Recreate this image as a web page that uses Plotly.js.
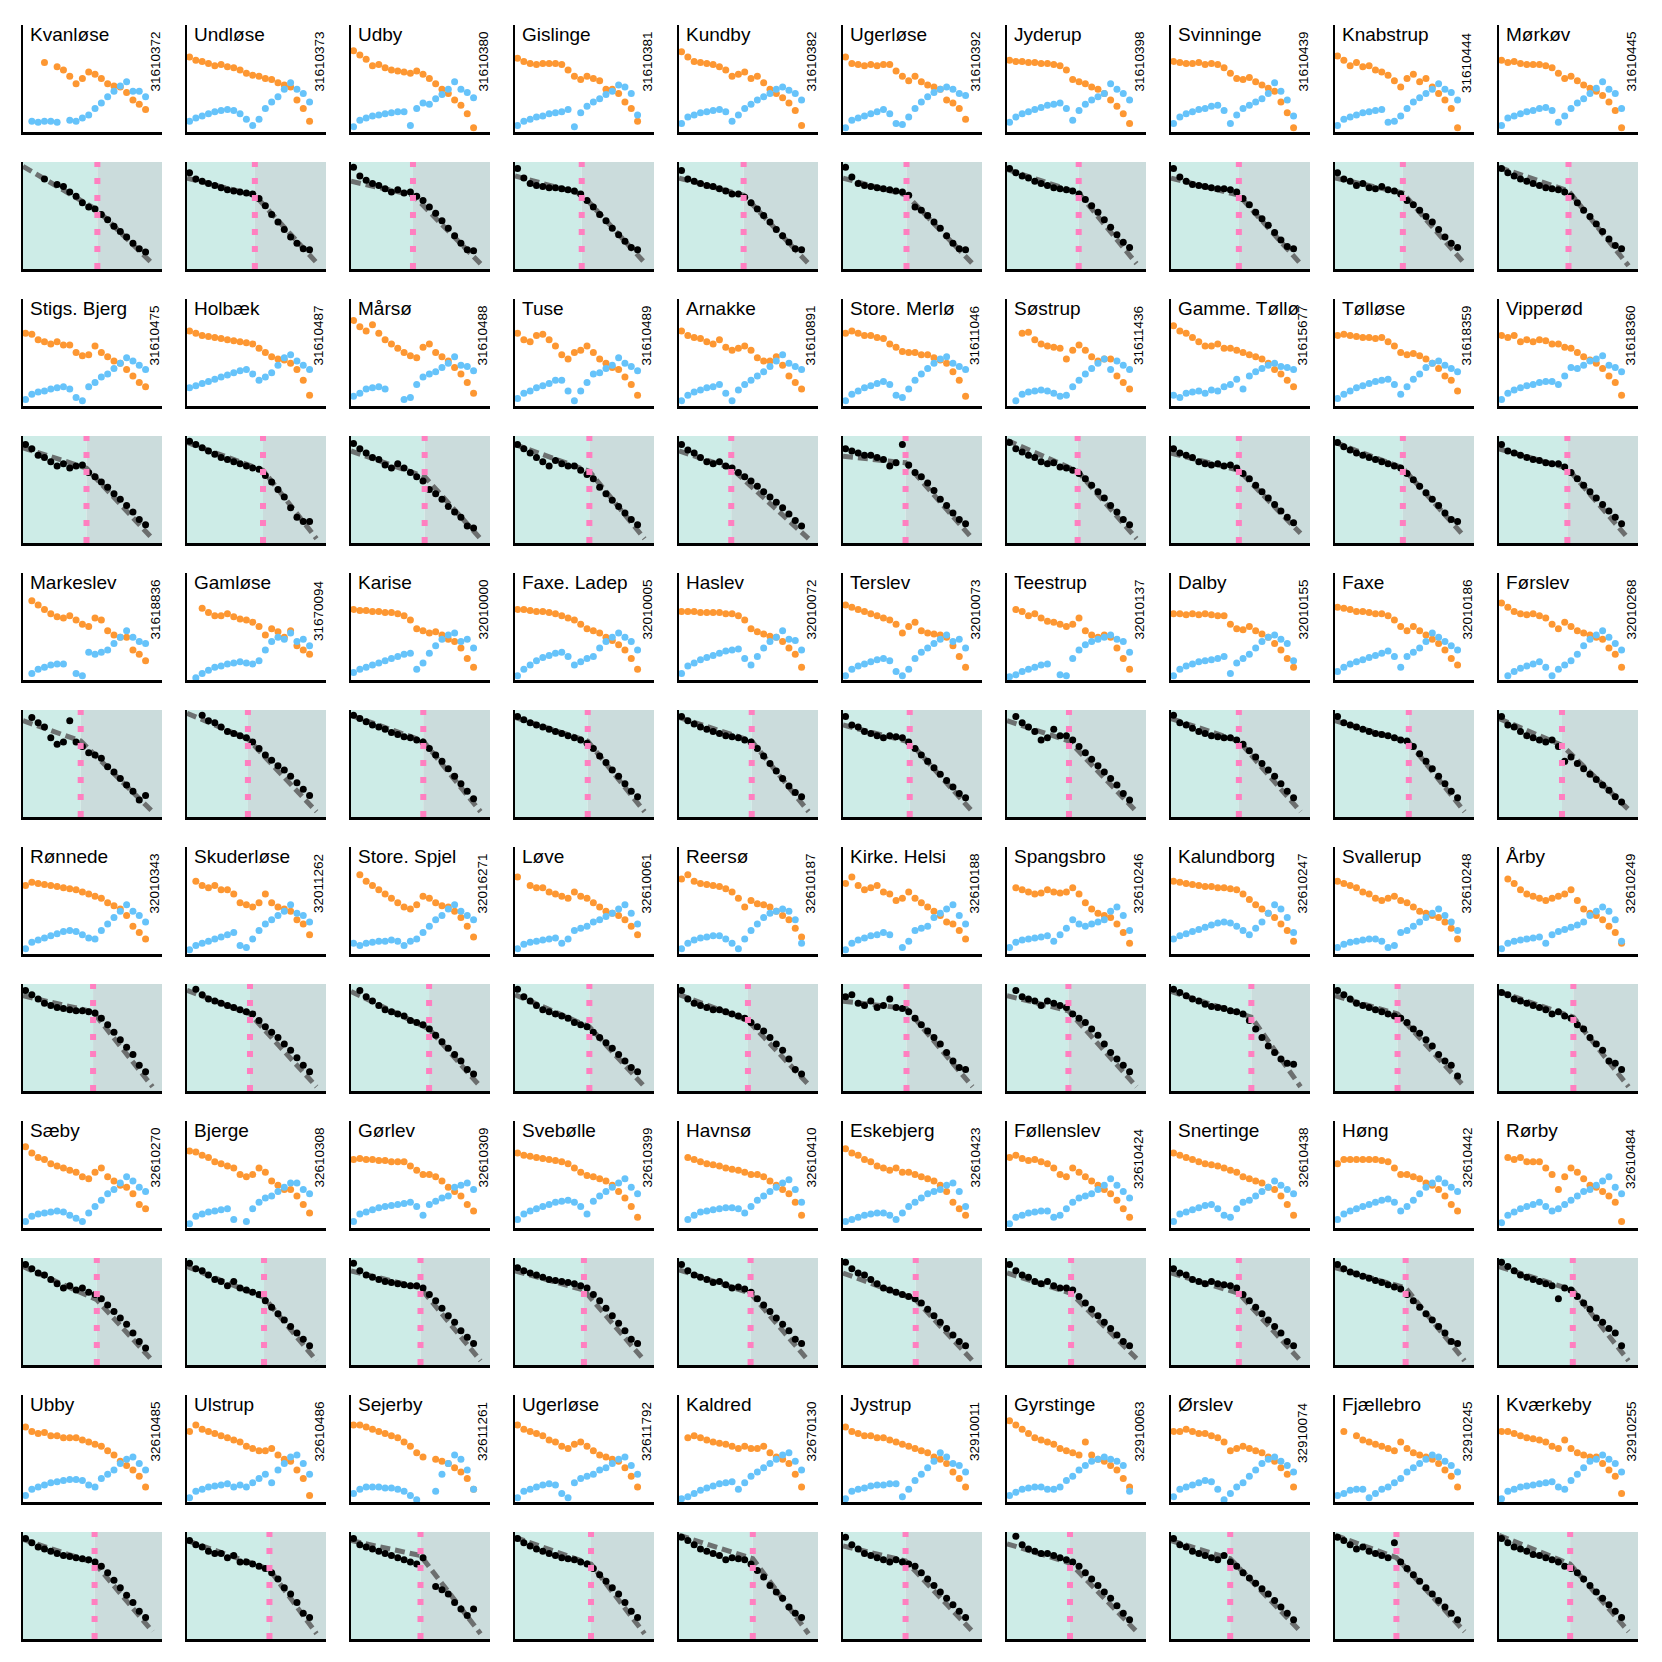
<!DOCTYPE html>
<html>
<head>
<meta charset="utf-8">
<script src="https://cdn.plot.ly/plotly-3.0.1.min.js"></script>
<style>
  html, body { margin: 0; padding: 0; background: #fff; }
  #chart { width: 1662px; height: 1662px; }
</style>
</head>
<body>
<div id="chart"></div>
<script>
// Station panels: top = two level series, bottom = ratio series with a broken-line fit.

const siteNames = [
  'Kvanløse', 'Undløse', 'Udby', 'Gislinge', 'Kundby', 'Ugerløse', 'Jyderup', 'Svinninge', 'Knabstrup', 'Mørkøv',
  'Stigs. Bjerg', 'Holbæk', 'Mårsø', 'Tuse', 'Arnakke', 'Store. Merlø', 'Søstrup', 'Gamme. Tøllø', 'Tølløse', 'Vipperød',
  'Markeslev', 'Gamløse', 'Karise', 'Faxe. Ladep', 'Haslev', 'Terslev', 'Teestrup', 'Dalby', 'Faxe', 'Førslev',
  'Rønnede', 'Skuderløse', 'Store. Spjel', 'Løve', 'Reersø', 'Kirke. Helsi', 'Spangsbro', 'Kalundborg', 'Svallerup', 'Årby',
  'Sæby', 'Bjerge', 'Gørlev', 'Svebølle', 'Havnsø', 'Eskebjerg', 'Føllenslev', 'Snertinge', 'Høng', 'Rørby',
  'Ubby', 'Ulstrup', 'Sejerby', 'Ugerløse', 'Kaldred', 'Jystrup', 'Gyrstinge', 'Ørslev', 'Fjællebro', 'Kværkeby',
];

const siteIds = [
  '31610372', '31610373', '31610380', '31610381', '31610382', '31610392', '31610398', '31610439', '31610444', '31610445',
  '31610475', '31610487', '31610488', '31610489', '31610891', '31611046', '31611436', '31615677', '31618359', '31618360',
  '31618836', '31670094', '32010000', '32010005', '32010072', '32010073', '32010137', '32010155', '32010186', '32010268',
  '32010343', '32011262', '32016271', '32610061', '32610187', '32610188', '32610246', '32610247', '32610248', '32610249',
  '32610270', '32610308', '32610309', '32610399', '32610410', '32610423', '32610424', '32610438', '32610442', '32610484',
  '32610485', '32610486', '32611261', '32611792', '32670130', '32910011', '32910063', '32910074', '32910245', '32910255',
];

// sample times shared by every series
const sampleTimes = [1, 2, 3, 4, 5, 6, 7, 8, 9, 10, 11, 12, 13, 14, 15, 16, 17, 18, 19, 20];

const orangeSeries = [
  [null,null,null,65,null,61,58,52,45,50,56,54,50,45,43,42,37,30,26,21],
  [70,67,66,64,62,63,61,60,58,55,53,52,50,49,46,44,42,30,22,10],
  [76,72,68,62,63,60,58,57,56,55,57,54,50,45,40,36,30,25,17,4],
  [69,66,64,63,64,64,64,63,58,52,49,52,50,48,40,40,36,28,22,10],
  [75,70,66,65,64,63,61,58,52,54,56,50,52,46,40,36,32,27,20,6],
  [70,64,63,62,63,62,63,63,57,52,48,52,47,44,42,40,30,27,22,12],
  [67,66,66,65,65,64,64,63,62,58,49,47,45,42,40,36,30,24,17,8],
  [66,65,64,64,65,63,64,63,60,55,50,49,51,47,44,41,38,28,18,4],
  [71,67,62,65,61,62,58,56,53,48,42,50,54,47,50,42,36,30,22,4],
  [67,65,66,64,63,63,63,62,60,55,50,52,48,44,41,38,34,28,20,4],
  [68,67,62,60,58,60,57,57,50,47,48,56,50,46,42,40,34,28,22,18],
  [70,68,66,65,64,63,62,61,60,59,58,54,50,46,44,43,40,34,24,10],
  [80,74,70,76,68,62,58,54,50,47,45,55,58,50,46,42,36,30,22,12],
  [68,62,60,66,67,62,56,48,44,50,52,56,50,44,40,36,34,27,20,10],
  [70,66,64,63,60,58,62,55,52,54,56,52,45,42,42,46,38,28,22,16],
  [68,70,68,66,66,64,63,58,55,51,50,50,48,48,45,43,40,32,24,9],
  [null,null,68,69,62,58,56,55,54,44,52,57,52,46,42,44,44,28,22,16],
  [75,70,68,64,60,56,56,58,54,54,52,50,48,46,44,40,34,30,24,18],
  [66,67,66,65,64,64,63,64,60,56,50,48,49,47,44,40,35,28,24,14],
  [66,64,66,60,62,60,62,61,58,58,55,54,50,46,43,40,35,28,22,10],
  [null,74,70,66,62,59,58,60,56,52,50,58,56,46,42,40,40,28,24,18],
  [null,null,67,63,60,60,62,59,57,56,54,50,42,48,45,40,46,32,28,24],
  [66,65,65,64,64,63,63,62,60,56,48,46,44,45,42,38,36,30,20,12],
  [66,66,65,64,64,63,62,60,58,56,52,48,46,44,40,37,33,28,20,10],
  [64,64,64,63,63,63,63,62,62,60,56,48,45,43,41,40,36,30,24,12],
  [70,68,66,64,62,60,58,56,52,44,50,54,46,44,43,42,40,32,22,12],
  [null,66,64,60,62,58,55,54,52,50,52,58,46,42,40,42,40,30,20,10],
  [62,62,61,62,61,62,61,60,60,52,48,47,50,46,43,40,34,28,20,12],
  [68,67,66,64,64,63,62,62,60,56,50,46,50,46,42,38,34,28,20,14],
  [72,68,64,62,61,62,60,58,52,48,54,50,46,44,42,40,38,30,24,12],
  [64,67,66,65,64,63,62,61,60,58,56,54,52,48,45,42,36,26,20,14],
  [null,68,64,62,64,60,60,56,48,46,44,48,56,48,44,42,40,32,28,18],
  [null,74,68,64,60,56,52,48,44,42,46,54,52,48,45,44,40,34,26,16],
  [72,null,64,62,62,58,56,54,52,58,54,52,48,44,40,38,36,32,26,18],
  [70,74,68,66,65,64,63,61,58,52,44,50,47,46,44,40,36,32,24,16],
  [66,72,64,60,62,64,58,56,50,52,58,52,48,44,40,36,30,28,22,14],
  [null,62,60,58,56,57,60,58,57,58,62,56,48,42,38,36,34,28,20,10],
  [68,67,66,65,64,63,63,62,62,61,60,56,51,46,42,38,34,28,22,12],
  [68,66,64,62,58,56,52,50,52,54,50,48,44,40,38,36,34,30,24,14],
  [null,70,66,60,56,54,52,50,52,54,56,60,50,42,38,36,32,26,20,10],
  [76,70,66,64,60,58,56,54,52,48,46,52,56,48,44,40,38,32,22,18],
  [72,71,68,66,62,60,58,56,50,48,50,56,52,44,40,36,36,30,22,14],
  [64,65,64,64,63,63,62,62,62,58,54,50,50,48,44,38,34,30,22,16],
  [70,68,67,66,65,64,63,62,60,56,52,49,48,46,44,40,34,28,20,10],
  [null,66,64,62,60,59,58,56,55,54,52,50,50,48,44,40,36,32,24,12],
  [74,70,68,64,62,58,56,54,56,52,52,50,48,46,44,40,34,24,18,12],
  [66,68,65,63,64,62,60,56,50,48,56,52,48,44,40,36,32,26,18,10],
  [70,68,66,64,62,60,59,58,56,54,52,48,46,44,42,38,36,30,22,12],
  [60,64,64,64,64,64,64,63,62,56,50,50,48,46,42,40,36,30,22,16],
  [null,66,64,66,62,62,62,56,50,36,48,56,52,46,40,38,34,30,24,6],
  [70,66,64,65,62,62,60,60,60,58,56,54,52,48,44,38,34,30,24,14],
  [66,72,68,66,64,62,60,58,56,52,50,48,48,50,44,40,38,30,22,6],
  [72,72,70,68,66,64,62,60,56,52,46,42,null,40,38,36,32,28,22,12],
  [72,68,66,64,62,58,56,52,50,54,56,52,48,44,42,40,38,32,24,14],
  [null,60,62,60,58,56,55,54,52,50,52,50,50,52,46,42,40,36,26,14],
  [70,66,64,62,62,60,60,58,56,54,52,50,48,46,42,40,36,28,22,14],
  [76,72,68,64,60,58,56,54,50,48,46,44,56,44,40,38,34,30,22,14],
  [66,66,68,66,64,64,62,60,56,48,50,52,50,48,46,42,38,32,26,14],
  [null,66,null,62,58,56,54,52,50,48,56,50,46,44,42,40,36,30,24,14],
  [66,66,64,62,60,59,58,56,52,50,58,50,46,44,42,42,36,30,24,8],
];

const blueSeries = [
  [null,10,9,10,10,9,null,11,10,13,16,22,27,33,38,43,47,38,38,33],
  [10,13,15,17,19,20,21,20,17,12,6,12,22,28,33,40,46,40,36,28],
  [5,11,13,15,16,17,18,19,19,6,22,27,26,31,35,40,47,40,37,32],
  [6,10,12,14,15,17,18,19,21,5,18,24,28,31,35,38,44,42,36,16],
  [8,14,16,18,19,20,21,19,10,16,22,26,30,33,36,40,42,39,36,30],
  [4,11,13,15,17,19,21,17,8,7,14,22,28,33,37,40,42,40,36,34],
  [9,14,17,19,21,23,25,26,27,22,11,20,26,30,33,36,45,40,36,30],
  [8,14,17,19,21,22,24,25,20,8,16,22,25,28,31,36,46,38,30,15],
  [6,12,14,16,18,19,20,21,9,10,15,22,28,32,36,40,45,40,37,30],
  [6,13,15,17,19,20,22,23,20,9,15,22,27,31,36,41,47,40,36,22],
  [6,11,13,14,16,17,18,16,8,5,18,22,27,30,35,40,45,42,38,34],
  [17,19,21,23,25,27,29,31,33,34,30,24,27,31,38,45,48,42,38,34],
  [9,12,16,17,18,16,null,null,6,8,20,27,30,32,36,40,46,38,37,33],
  [7,12,14,17,19,21,24,24,14,5,14,22,30,31,35,38,45,40,37,33],
  [5,10,13,15,17,18,20,12,5,15,20,24,28,32,37,42,48,40,37,34],
  [5,11,14,17,19,21,23,20,10,8,16,24,30,35,40,44,46,40,37,34],
  [null,5,11,13,14,15,14,12,9,10,18,24,30,35,40,44,34,42,38,34],
  [10,8,12,13,14,12,15,14,18,20,25,16,28,32,35,38,40,37,36,34],
  [7,11,14,17,19,21,23,24,25,20,11,18,25,30,36,40,42,38,35,32],
  [6,12,15,17,19,20,22,23,23,20,28,36,35,38,42,44,47,38,36,32],
  [null,6,10,12,14,15,15,null,6,4,26,24,26,28,34,40,46,40,36,34],
  [null,2,6,9,12,13,15,16,17,16,15,18,28,36,40,38,44,36,38,32],
  [7,10,12,14,16,18,20,22,24,25,10,16,25,32,38,42,44,36,38,30],
  [4,10,14,18,21,23,25,26,22,14,17,20,22,30,36,40,44,40,36,28],
  [6,13,16,19,21,23,25,27,28,29,20,14,22,30,36,40,46,38,37,28],
  [4,10,13,15,17,19,20,18,8,4,10,20,26,30,34,38,42,36,38,30],
  [3,5,8,10,12,14,15,null,5,4,20,28,33,36,38,40,42,38,36,26],
  [4,10,13,15,17,18,19,20,22,6,16,20,24,30,36,40,42,38,34,18],
  [8,12,15,17,19,21,23,25,27,22,12,22,26,30,36,44,40,36,32,28],
  [null,4,8,11,13,15,17,12,4,10,14,18,24,32,38,42,46,40,34,28],
  [5,11,13,15,17,19,21,22,21,18,15,14,22,28,34,40,46,40,36,30],
  [4,8,10,12,14,16,18,20,8,6,14,22,28,32,36,40,46,38,36,30],
  [10,8,10,11,12,12,13,12,8,12,14,20,26,32,36,42,46,40,36,32],
  [5,9,11,12,13,14,15,10,14,22,24,26,30,32,35,38,42,46,38,28],
  [5,10,13,15,16,17,17,14,10,5,14,22,28,34,38,40,42,40,32,10],
  [4,10,13,15,17,18,20,18,null,6,12,22,24,26,34,38,42,46,36,28],
  [6,11,13,14,15,16,17,12,18,24,32,28,26,28,30,32,40,44,36,22],
  [14,17,19,21,23,25,27,29,30,29,26,22,18,24,30,38,46,42,34,20],
  [6,9,11,12,13,14,14,12,6,8,20,22,26,30,34,38,42,36,30,22],
  [5,10,12,13,14,15,16,10,18,21,23,25,27,30,36,40,44,40,32,12],
  [6,11,13,14,15,16,15,12,9,6,14,20,26,32,36,42,48,44,38,34],
  [4,11,13,15,16,17,18,8,null,6,18,24,28,30,34,38,42,42,36,32],
  [6,13,15,17,19,20,21,22,23,24,20,12,22,25,28,30,38,40,42,36],
  [8,13,16,18,20,22,24,25,26,24,20,13,25,30,34,38,42,46,38,32],
  [null,8,12,15,16,17,18,19,19,18,14,20,26,30,34,38,42,45,36,24],
  [6,8,10,12,13,14,14,12,8,14,20,24,28,32,34,36,40,42,34,20],
  [4,10,12,14,15,16,16,10,12,18,24,28,30,32,36,40,46,40,34,28],
  [6,13,15,17,19,21,22,18,12,10,18,24,26,30,34,38,44,40,36,32],
  [8,13,16,18,20,22,24,26,27,24,16,20,26,32,38,42,46,42,38,34],
  [5,12,15,18,20,22,24,20,16,18,22,26,30,34,36,40,44,48,38,32],
  [6,12,14,16,18,19,20,21,21,20,16,14,22,26,30,36,40,42,36,30],
  [4,10,12,14,15,16,17,14,16,14,18,22,26,18,30,36,42,44,36,26],
  [8,12,14,14,14,13,13,12,10,6,2,null,null,10,26,36,44,40,30,12],
  [4,10,12,14,16,17,16,8,4,18,22,24,26,30,32,36,40,42,34,26],
  [3,5,8,11,13,15,17,18,19,12,18,24,28,32,36,40,44,46,38,30],
  [3,10,12,13,15,16,16,17,17,5,12,20,26,32,38,46,42,36,34,28],
  [6,9,12,13,14,14,12,12,14,20,24,30,34,38,40,42,40,38,34,10],
  [5,12,14,16,18,20,19,12,2,8,14,18,24,30,36,40,42,38,34,28],
  [6,8,11,12,12,4,8,12,14,18,22,28,32,36,40,44,42,38,34,28],
  [3,10,12,14,15,16,17,18,19,14,12,20,26,32,38,40,44,40,36,28],
];

const blackSeries = [
  [null,null,null,84,null,79,77,72,68,62,58,56,51,46,40,35,30,24,19,16],
  [90,84,82,80,78,76,74,73,72,71,70,66,59,51,44,37,30,24,19,18],
  [95,87,83,80,78,75,72,74,71,72,68,64,58,52,45,38,31,24,18,17],
  [94,85,80,78,77,76,76,75,74,73,70,64,58,51,45,38,32,26,20,18],
  [92,84,82,80,78,77,75,73,70,70,67,62,56,50,44,37,31,25,19,18],
  [95,86,80,78,77,76,75,74,73,72,69,58,55,50,44,38,31,24,19,18],
  [94,90,87,85,82,80,78,76,75,74,73,70,65,59,53,46,39,32,25,20],
  [94,86,82,79,78,77,76,75,75,74,72,66,60,53,47,41,34,27,21,19],
  [90,84,82,78,80,76,75,77,74,73,70,64,60,55,49,44,37,30,24,20],
  [94,90,87,84,82,80,78,76,75,74,72,68,62,55,49,42,35,28,22,19],
  [92,88,82,80,76,72,74,70,72,73,66,62,57,52,46,41,35,29,22,17],
  [95,92,89,86,83,80,78,76,74,72,70,69,63,57,50,43,33,24,20,20],
  [93,88,84,80,78,73,70,74,70,66,62,58,50,46,41,34,29,24,16,14],
  [92,88,84,80,76,72,77,74,72,72,68,64,60,52,46,40,34,28,22,17],
  [92,87,84,80,76,74,76,72,70,66,62,58,53,48,43,38,33,27,21,16],
  [88,86,84,82,82,80,78,72,75,92,73,66,62,56,49,41,35,28,22,18],
  [94,88,85,82,80,76,74,75,71,70,68,65,60,54,48,42,35,29,22,17],
  [88,84,82,80,76,74,73,74,72,73,70,65,60,54,48,42,36,30,24,19],
  [94,90,87,84,82,80,78,76,74,72,70,65,59,53,47,41,35,28,22,20],
  [92,86,84,82,80,78,77,75,74,74,71,66,60,54,48,42,36,30,24,18],
  [null,93,88,84,74,68,70,90,70,66,60,58,55,47,42,36,30,24,16,20],
  [null,null,95,90,88,84,80,78,76,74,70,64,58,53,48,44,38,32,26,20],
  [95,92,89,86,84,82,79,77,75,74,72,70,64,58,52,45,38,31,24,17],
  [94,91,88,86,84,82,80,78,76,74,72,69,64,57,51,44,38,31,24,19],
  [94,90,87,84,82,80,78,76,75,74,72,70,64,57,50,43,36,29,23,19],
  [94,86,84,80,78,76,74,76,75,74,70,64,58,52,46,40,34,28,22,18],
  [null,94,88,84,80,72,74,82,76,76,72,66,60,54,48,42,36,30,22,16],
  [95,88,86,83,80,78,76,75,74,74,72,68,62,56,50,44,38,31,24,18],
  [94,88,86,84,82,80,78,77,76,74,72,71,66,59,52,45,38,31,24,18],
  [94,86,84,80,76,74,72,70,72,66,52,56,50,45,40,35,30,25,19,14],
  [94,90,86,82,80,78,77,76,75,75,74,73,68,62,55,48,41,34,24,18],
  [null,95,90,86,84,82,80,78,76,74,72,66,60,55,50,44,38,31,24,18],
  [null,94,88,84,80,76,74,72,70,66,64,62,58,52,46,40,34,28,20,16],
  [95,88,84,80,76,74,72,70,68,64,62,60,55,50,45,40,34,28,22,18],
  [94,86,82,80,78,76,76,74,72,70,68,64,60,56,50,44,38,30,20,16],
  [88,90,82,80,84,78,80,86,78,77,74,68,62,56,50,44,36,28,22,20],
  [null,94,88,86,84,80,84,82,80,78,72,68,64,58,52,44,36,30,24,18],
  [95,92,89,86,84,81,79,78,77,75,74,72,66,58,50,42,36,30,26,25],
  [94,90,86,82,80,78,76,74,72,70,68,64,58,54,48,42,34,28,24,14],
  [92,90,86,84,82,80,78,76,72,74,70,68,62,58,50,44,38,28,26,20],
  [94,90,86,84,80,76,72,74,70,72,68,66,62,56,50,44,38,30,22,16],
  [95,90,88,84,80,78,74,78,72,70,68,66,60,54,48,42,36,30,24,18],
  [95,88,84,82,80,78,77,76,75,74,74,72,66,60,53,46,40,32,26,20],
  [91,88,86,84,82,80,79,78,77,76,74,72,66,60,53,46,39,32,24,20],
  [94,88,84,82,80,77,78,75,72,73,71,68,62,56,50,44,38,32,24,20],
  [96,90,86,84,80,76,72,70,68,66,64,62,58,52,46,40,34,28,22,18],
  [94,88,84,82,78,76,78,74,72,72,70,64,58,52,46,40,34,28,22,18],
  [90,86,84,80,78,76,78,76,75,74,72,66,60,54,48,42,36,30,22,18],
  [94,90,87,85,83,81,79,77,75,73,71,66,60,54,48,42,36,30,22,20],
  [96,92,88,84,82,80,78,76,74,62,72,70,64,58,52,44,40,34,30,18],
  [94,90,86,84,82,80,78,77,76,75,74,72,68,62,55,48,41,34,26,20],
  [92,88,86,82,80,80,76,78,72,72,70,68,66,62,56,48,42,34,24,20],
  [94,88,86,84,82,80,78,76,74,72,70,76,null,49,46,42,34,28,22,28],
  [94,90,87,84,82,80,78,76,75,74,72,70,66,60,54,48,42,34,26,20],
  [95,92,88,84,82,80,78,74,76,75,74,70,64,58,50,44,38,30,24,20],
  [95,88,84,80,78,76,74,72,74,72,70,68,62,56,50,44,38,32,26,20],
  [null,96,88,84,82,80,80,78,76,74,72,68,62,56,50,44,38,31,24,18],
  [94,88,86,82,80,78,76,74,78,72,68,62,57,52,47,42,36,30,24,18],
  [95,92,88,84,86,82,80,78,76,90,72,66,60,54,48,42,36,30,24,18],
  [94,90,86,84,82,79,78,76,74,72,68,66,62,56,50,44,38,32,26,20],
];

// time of the break in each ratio series
const breakTimes = [
  12.37, 11.34, 10.41, 11.16, 10.83, 10.65, 11.95, 11.34, 11.34, 11.6,
  10.65, 12.63, 12.26, 12.37, 8.87, 10.5, 11.78, 11.34, 11.34, 11.42,
  9.73, 10.24, 12.04, 12.11, 12.11, 11.16, 10.41, 11.34, 12.28, 10.57,
  11.69, 10.57, 12.96, 12.37, 11.51, 10.65, 10.32, 13.32, 10.5, 12.37,
  12.28, 12.79, 11.6, 11.51, 11.93, 12.11, 10.74, 11.34, 11.78, 12.28,
  11.93, 13.65, 11.6, 12.63, 12.28, 10.5, 10.57, 9.97, 10.32, 11.86,
];

// broken-line fit: value at start, at the break, at the end of the span
const fitSpan = [0.6, 21.1];
const fitStart = [
  96, 85, 82, 87, 85, 85, 93, 85, 85, 95,
  89, 94, 86, 92, 86, 81, 96, 84, 94, 88,
  90, 97, 95, 93, 93, 86, 90, 92, 90, 92,
  89, 94, 93, 90, 90, 84, 89, 93, 89, 93,
  92, 92, 88, 88, 89, 86, 86, 86, 91, 92,
  93, 92, 92, 95, 97, 87, 89, 92, 97, 97,
];
const fitBreak = [
  55, 69, 69, 70, 69, 69, 71, 69, 71, 73,
  70, 68, 62, 67, 70, 75, 67, 68, 70, 70,
  71, 73, 71, 71, 71, 70, 71, 71, 70, 67,
  74, 72, 58, 60, 66, 77, 75, 69, 72, 69,
  61, 63, 72, 70, 67, 61, 67, 67, 72, 70,
  71, 65, 78, 70, 75, 73, 71, 75, 76, 70,
];
const fitEnd = [
  5, 6, 5, 6, 5, 5, 5, 5, 5, 3,
  4, 4, 4, 4, 4, 4, 4, 9, 6, 4,
  5, 5, 5, 5, 5, 5, 5, 5, 5, 7,
  4, 4, 4, 4, 6, 4, 4, 4, 4, 4,
  4, 4, 4, 4, 4, 4, 6, 4, 4, 4,
  7, 5, 5, 5, 5, 7, 7, 7, 7, 7,
];

const FIG = 1662;
const N_COLS = 10;
const GRID_LEFT = 23;
const GRID_TOP = 25;
const COL_STEP = 164;
const ROW_STEP = 137;
const PANEL_W = 139;
const PANEL_H = 107;
const X_RANGE = [0.6, 22.6];
const Y_RANGE = [0, 100];
const FONT = 'Liberation Sans, Arial, Helvetica, sans-serif';

const COLORS = {
  orange: '#fd9732',
  blue: '#66c3fa',
  black: '#000000',
  fit: 'rgba(92,92,92,0.85)',
  pink: '#ff7fc0',
  before: '#cdece7',
  after: '#cbdcdc',
};

function domainX(col) {
  const x0 = GRID_LEFT + col * COL_STEP;
  return [x0 / FIG, (x0 + PANEL_W) / FIG];
}

function domainY(row) {
  const top = GRID_TOP + row * ROW_STEP;
  return [1 - (top + PANEL_H) / FIG, 1 - top / FIG];
}

function axisStyle(extra) {
  return Object.assign({
    showgrid: false,
    zeroline: false,
    showticklabels: false,
    ticks: '',
    showline: true,
    linecolor: '#000',
    linewidth: 2.5,
    fixedrange: true,
  }, extra);
}

function dots(values, suffix, color, size) {
  return {
    type: 'scatter',
    mode: 'markers',
    x: sampleTimes,
    y: values,
    xaxis: 'x' + suffix,
    yaxis: 'y' + suffix,
    marker: {color: color, size: size, line: {width: 0}},
    hoverinfo: 'skip',
  };
}

const traces = [];
const shapes = [];
const annotations = [];
const layout = {
  width: FIG,
  height: FIG,
  margin: {l: 0, r: 0, t: 0, b: 0},
  paper_bgcolor: '#ffffff',
  plot_bgcolor: 'rgba(0,0,0,0)',
  showlegend: false,
  font: {family: FONT, color: '#000'},
};

siteNames.forEach((name, k) => {
  const col = k % N_COLS;
  const pair = Math.floor(k / N_COLS);
  const nTop = 2 * k + 1;
  const nBot = 2 * k + 2;
  const sTop = nTop === 1 ? '' : String(nTop);
  const sBot = String(nBot);

  layout['xaxis' + sTop] = axisStyle({domain: domainX(col), range: X_RANGE, anchor: 'y' + sTop});
  layout['yaxis' + sTop] = axisStyle({domain: domainY(2 * pair), range: Y_RANGE, anchor: 'x' + sTop});
  layout['xaxis' + sBot] = axisStyle({domain: domainX(col), range: X_RANGE, anchor: 'y' + sBot});
  layout['yaxis' + sBot] = axisStyle({domain: domainY(2 * pair + 1), range: Y_RANGE, anchor: 'x' + sBot});

  // top panel: the two level series
  traces.push(dots(orangeSeries[k], sTop, COLORS.orange, 7));
  traces.push(dots(blueSeries[k], sTop, COLORS.blue, 7));

  // bottom panel: fit line, then the ratio points
  traces.push({
    type: 'scatter',
    mode: 'lines',
    x: [fitSpan[0], breakTimes[k], fitSpan[1]],
    y: [fitStart[k], fitBreak[k], fitEnd[k]],
    xaxis: 'x' + sBot,
    yaxis: 'y' + sBot,
    line: {color: COLORS.fit, width: 5, dash: '10px,5px'},
    hoverinfo: 'skip',
  });
  traces.push(dots(blackSeries[k], sBot, COLORS.black, 7));

  // shaded periods before / after the break
  shapes.push({
    type: 'rect', layer: 'below', xref: 'x' + sBot, yref: 'y' + sBot,
    x0: X_RANGE[0], x1: breakTimes[k], y0: Y_RANGE[0], y1: Y_RANGE[1],
    fillcolor: COLORS.before, line: {width: 0},
  });
  shapes.push({
    type: 'rect', layer: 'below', xref: 'x' + sBot, yref: 'y' + sBot,
    x0: breakTimes[k], x1: X_RANGE[1], y0: Y_RANGE[0], y1: Y_RANGE[1],
    fillcolor: COLORS.after, line: {width: 0},
  });
  shapes.push({
    type: 'line', layer: 'above', xref: 'x' + sBot, yref: 'y' + sBot,
    x0: breakTimes[k], x1: breakTimes[k], y0: Y_RANGE[0], y1: Y_RANGE[1],
    line: {color: COLORS.pink, width: 6, dash: '6px,11px'},
  });

  const left = GRID_LEFT + col * COL_STEP;
  const top = GRID_TOP + 2 * pair * ROW_STEP;
  annotations.push({
    text: name,
    xref: 'paper', yref: 'paper',
    x: (left + 5) / FIG, y: 1 - (top - 3) / FIG,
    xanchor: 'left', yanchor: 'top',
    showarrow: false,
    font: {family: FONT, size: 19, color: '#000'},
  });
  annotations.push({
    text: siteIds[k],
    xref: 'paper', yref: 'paper',
    x: (left + PANEL_W + 2) / FIG, y: 1 - (top + 5) / FIG,
    xanchor: 'right', yanchor: 'top',
    textangle: -90,
    showarrow: false,
    font: {family: FONT, size: 13.5, color: '#000'},
  });
});

layout.shapes = shapes;
layout.annotations = annotations;

Plotly.newPlot('chart', traces, layout, {staticPlot: true, displayModeBar: false});
</script>
</body>
</html>
